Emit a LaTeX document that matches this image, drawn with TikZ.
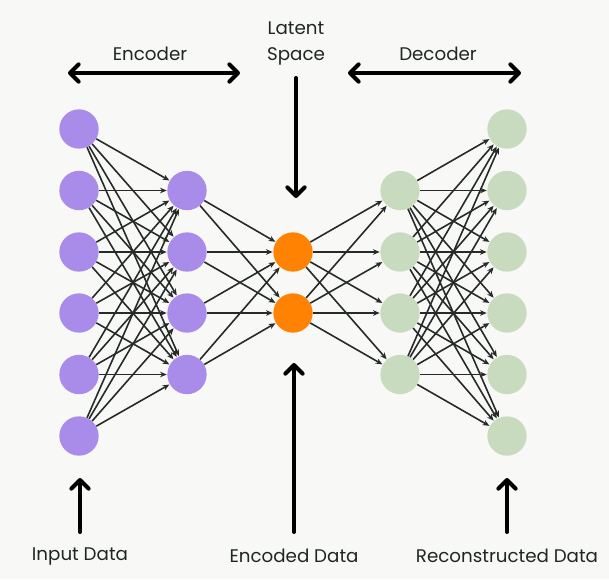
\documentclass[tikz,border=0pt]{standalone}
\usepackage{fontspec}
\setmainfont{Poppins}
\usetikzlibrary{arrows.meta}
\definecolor{bg}{HTML}{F8F9F6}
\definecolor{enc}{HTML}{A98BEA}
\definecolor{lat}{HTML}{FF8203}
\definecolor{dec}{HTML}{C9DBBF}
\definecolor{edge}{HTML}{262B29}
\definecolor{txt}{HTML}{1F2623}
\tikzset{
  neuron/.style={circle,minimum size=29.5pt,inner sep=0pt,draw=none},
  conn/.style={draw=edge,line width=1.2pt,-{Stealth[length=5pt,width=4.2pt]},shorten >=0.3pt},
  bigarrow/.style={draw=black,line width=3pt,-{Straight Barb[length=6.5pt,width=13pt,line width=3pt,round]},line cap=round},
  bigboth/.style={draw=black,line width=3pt,{Straight Barb[length=6.5pt,width=13pt,line width=3pt,round]}-{Straight Barb[length=6.5pt,width=13pt,line width=3pt,round]}},
  lbl/.style={text=txt,font=\fontsize{13.7}{19.5}\selectfont,inner sep=0pt,align=center}
}
\begin{document}
\begin{tikzpicture}[x=0.75pt,y=-0.75pt]
\fill[bg] (0,0) rectangle (609,579);
\useasboundingbox (0,0) rectangle (609,579);
% outer layers
\foreach \i/\y in {1/129,2/190.5,3/252,4/313,5/374.5,6/436}{
  \node[neuron,fill=enc] (a\i) at (79,\y) {};
  \node[neuron,fill=dec] (e\i) at (507,\y) {};
}
% hidden layers
\foreach \i/\y in {1/190.5,2/252,3/313,4/374.5}{
  \node[neuron,fill=enc] (b\i) at (187,\y) {};
  \node[neuron,fill=dec] (d\i) at (400,\y) {};
}
% latent layer
\foreach \i/\y in {1/252,2/313}{
  \node[neuron,fill=lat] (c\i) at (293,\y) {};
}
\foreach \i in {1,...,6}{\foreach \j in {1,...,4}{\draw[conn] (a\i) -- (b\j);}}
\foreach \i in {1,...,4}{\foreach \j in {1,2}{\draw[conn] (b\i) -- (c\j);}}
\foreach \i in {1,2}{\foreach \j in {1,...,4}{\draw[conn] (c\i) -- (d\j);}}
\foreach \i in {1,...,4}{\foreach \j in {1,...,6}{\draw[conn] (d\i) -- (e\j);}}
% labels
\node[lbl] (tenc) at (150,54) {Encoder};
\node[lbl] (tlat) at (296,44) {Latent\\Space};
\node[lbl] (tdec) at (438,54) {Decoder};
\node[lbl] (tin) at (80,556) {Input Data};
\node[lbl] (tcod) at (294,556) {Encoded Data};
\node[lbl] (trec) at (507,556) {Reconstructed Data};
\coordinate (ea) at (68,73); \coordinate (eb) at (240,73);
\coordinate (da) at (348,73); \coordinate (db) at (521,73);
\coordinate (la) at (296,78); \coordinate (lb) at (296,198);
\coordinate (ia) at (80,532); \coordinate (ib) at (80,478);
\coordinate (ca) at (294,532); \coordinate (cb) at (294,363);
\coordinate (ra) at (507,532); \coordinate (rb) at (507,478);
\draw[bigboth] (ea) -- (eb);
\draw[bigboth] (da) -- (db);
\draw[bigarrow] (la) -- (lb);
\draw[bigarrow] (ia) -- (ib);
\draw[bigarrow] (ca) -- (cb);
\draw[bigarrow] (ra) -- (rb);
\end{tikzpicture}
\end{document}
